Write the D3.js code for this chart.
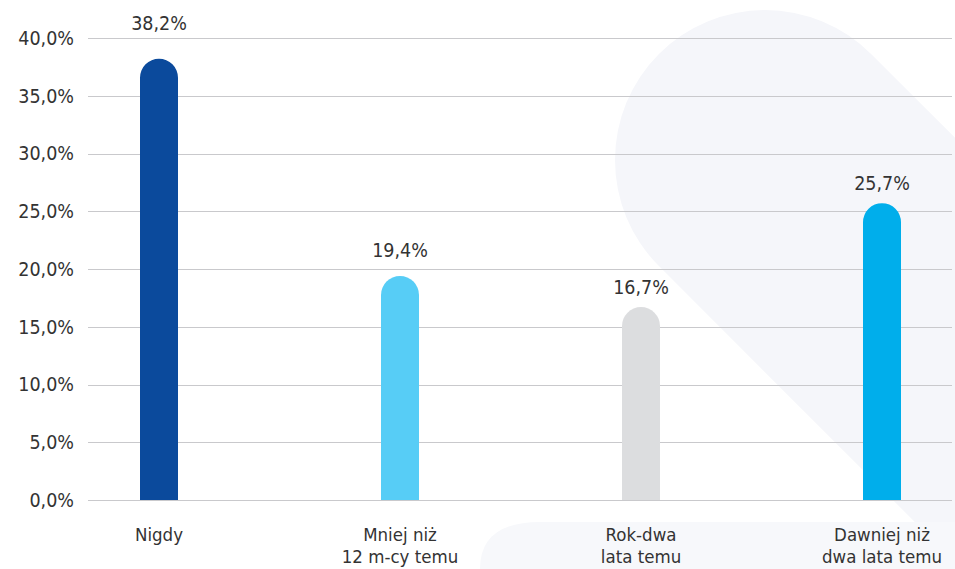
<!DOCTYPE html>
<html><head><meta charset="utf-8">
<script src="https://cdn.jsdelivr.net/npm/d3@7"></script>
<style>body{margin:0;background:#fff}svg{display:block}</style>
</head><body>
<svg id="c" width="955" height="569"></svg>
<script>
const categories = [["Nigdy"], ["Mniej niż", "12 m-cy temu"], ["Rok-dwa", "lata temu"], ["Dawniej niż", "dwa lata temu"]];
const values = [38.2, 19.4, 16.7, 25.7];
const colors = ["#0b4a9c", "#57cdf6", "#dcdddf", "#00aeeb"];
const yTicks = [0, 5, 10, 15, 20, 25, 30, 35, 40];
const labelGap = [29, 19, 13, 13];

const svg = d3.select("#c");
const font = "'DejaVu Sans Condensed', 'DejaVu Sans', sans-serif";
const W = 955, H = 569;

// background decorative shapes
const bg = svg.append("g");
const cx = 765, cy = 160, r = 150;
const s = r / Math.SQRT2;
bg.append("path")
  .attr("d", `M${cx + s},${cy - s} A${r},${r} 0 1 0 ${cx - s},${cy + s} L${cx - s + 420},${cy + s + 420} L${cx + s + 420},${cy - s + 420} Z`)
  .attr("fill", "#f5f6fa");
bg.append("path")
  .attr("d", `M480,${H} Q480,522 540,522 L${W},522 L${W},${H} Z`)
  .attr("fill", "#f7f8fb");

const y = d3.scaleLinear().domain([0, 40]).range([500, 38]);
const x = d3.scalePoint().domain(d3.range(values.length)).range([159, 882]);
const bw = 38, rr = bw / 2;

// grid
svg.append("g").selectAll("line").data(yTicks).join("line")
  .attr("x1", 88).attr("x2", 952)
  .attr("y1", d => Math.round(y(d)) + 0.5).attr("y2", d => Math.round(y(d)) + 0.5)
  .attr("stroke", "#c9c9cc").attr("stroke-width", 1.2);

// y axis labels
const yAxis = d3.axisLeft(y).tickValues(yTicks).tickSize(0).tickPadding(0)
  .tickFormat(d => d3.format(".1f")(d).replace(".", ",") + "%");
const ya = svg.append("g").attr("transform", "translate(74,0)").call(yAxis);
ya.select(".domain").remove();
ya.selectAll("text").attr("font-family", font).attr("font-size", 19.5).attr("fill", "#333");

// bars
svg.append("g").selectAll("path").data(values).join("path")
  .attr("d", (v, i) => {
    const cxp = x(i), top = y(v), base = y(0);
    return `M${cxp - rr},${base} L${cxp - rr},${top + rr} A${rr},${rr} 0 0 1 ${cxp + rr},${top + rr} L${cxp + rr},${base} Z`;
  })
  .attr("fill", (v, i) => colors[i]);

// value labels
svg.append("g").selectAll("text").data(values).join("text")
  .attr("x", (v, i) => x(i)).attr("y", (v, i) => y(v) - labelGap[i])
  .attr("text-anchor", "middle").attr("font-family", font).attr("font-size", 19.5).attr("fill", "#333")
  .text(v => d3.format(".1f")(v).replace(".", ",") + "%");

// category labels (each line its own text element)
const xg = svg.append("g").selectAll("g").data(categories).join("g")
  .attr("transform", (d, i) => `translate(${x(i)},541)`);
xg.selectAll("text").data(d => d).join("text")
  .attr("x", 0).attr("y", (d, j) => j * 21.5)
  .attr("text-anchor", "middle").attr("font-family", font).attr("font-size", 18.5).attr("fill", "#333")
  .text(d => d);
</script>
</body></html>
